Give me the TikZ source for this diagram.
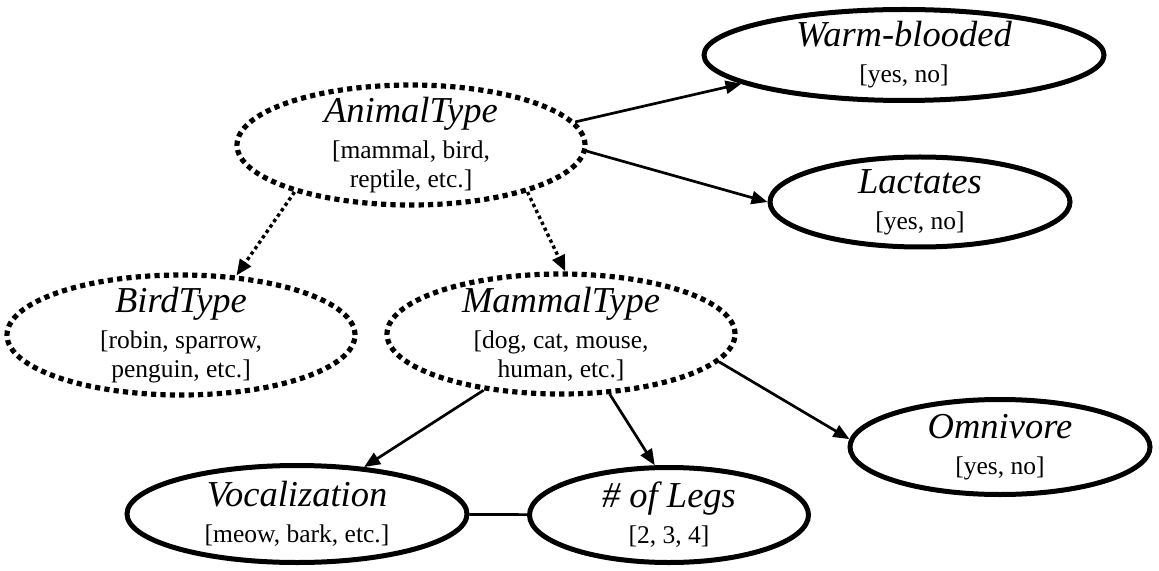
\documentclass[tikz,border=0pt]{standalone}
\usepackage{fontspec}
\setmainfont{Liberation Serif}
\usetikzlibrary{
  arrows.meta,
  shapes.geometric
}
\newcommand{\varname}[1]{{\fontsize{18.25pt}{19.5pt}\selectfont\itshape #1}}
\newcommand{\vtext}[2]{\varname{#1}\\[3.5pt]{}#2}

\begin{document}
\begin{tikzpicture}[
  x=0.5pt,y=-0.5pt,
  every node/.style={font=\fontsize{12.75pt}{14.5pt}\selectfont},
  var/.style={ellipse,draw,line width=2.5pt,align=center,
    inner xsep=0pt,inner ysep=-4pt},
  latent/.style={var,line width=2.6pt,dash pattern=on 2.6pt off 2.1pt,
    minimum width=174pt,minimum height=60pt},
  arrow/.style={-{Triangle[length=8pt,width=6.5pt]},line width=1.35pt},
  link/.style={arrow,line width=1.7pt,dash pattern=on 1.7pt off 1.6pt}
]
\useasboundingbox (0,0) rectangle (1159,571);

\node[latent] (animal) at (411,145)
  {\vtext{AnimalType}{[mammal, bird,\\ reptile, etc.]}};
\node[var,minimum width=200pt,minimum height=45.5pt] (warm) at (904,55)
  {\vtext{Warm-blooded}{[yes, no]}};
\node[var,minimum width=150pt,minimum height=45pt] (lact) at (920,202)
  {\vtext{Lactates}{[yes, no]}};

\node[latent] (bird) at (181,335)
  {\vtext{BirdType}{[robin, sparrow,\\ penguin, etc.]}};
\node[latent] (mammal) at (561,334)
  {\vtext{MammalType}{[dog, cat, mouse,\\ human, etc.]}};
\node[var,minimum width=150pt,minimum height=47.5pt] (omni) at (1000,447)
  {\vtext{Omnivore}{[yes, no]}};

\node[var,minimum width=170pt,minimum height=48.5pt] (vocal) at (297,514)
  {\vtext{Vocalization}{[meow, bark, etc.]}};
\node[var,minimum width=139.5pt,minimum height=47.5pt] (legs) at (669,515)
  {\vtext{\# of Legs}{[2, 3, 4]}};

\draw[arrow] (animal.8) -- (warm.190);
\draw[arrow] (animal.-2) -- (lact.west);
\draw[link] (animal.202) -- (bird.47);
\draw[link] (animal.-22) -- (mammal.86);
\draw[arrow] (mammal.216) -- (vocal.35);
\draw[arrow] (mammal.-51) -- (legs.106);
\draw[arrow] (mammal.-10) -- (omni.177);
\draw[line width=1.35pt] (vocal) -- (legs);
\end{tikzpicture}
\end{document}
